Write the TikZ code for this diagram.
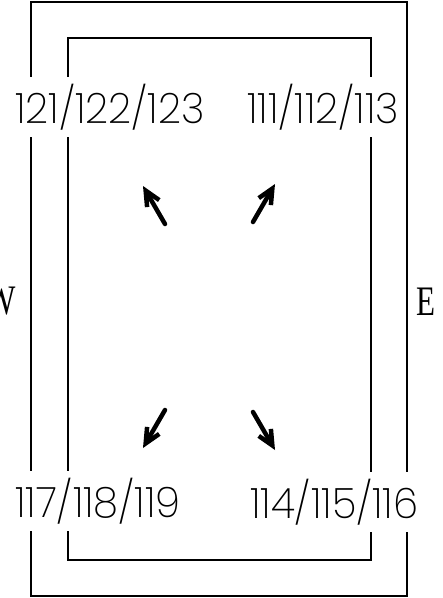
\documentclass[tikz,border=0pt]{standalone}
\usepackage{fontspec}
\usetikzlibrary{arrows.meta}
\newfontfamily\tagfont[FakeStretch=0.96]{Poppins ExtraLight}
\newfontfamily\dirfont[FakeStretch=0.74]{Liberation Serif}
\tikzset{
  wall/.style={draw=black,line width=1.1pt},
  tag/.style={fill=white,inner xsep=0pt,inner ysep=7pt,anchor=west,font=\tagfont\fontsize{42}{42}\selectfont},
  dir/.style={inner sep=0pt,font=\dirfont\fontsize{42}{42}\selectfont},
  flow/.style={-{Straight Barb[length=15pt,width=14pt]},line width=4.5pt,line cap=round},
}
\begin{document}
\begin{tikzpicture}[x=1pt,y=-1pt]
\useasboundingbox (0,0) rectangle (443,598);
\draw[wall] (31,2) rectangle (407,596);
\draw[wall] (68,38) rectangle (371,560);
\foreach \name/\x/\y/\txt in {
  nw/15/107/{121/122/123},
  ne/247/107/{111/112/113},
  sw/15/501/{117/118/119},
  se/250/502/{114/115/116}} {
  \node[tag] (\name) at (\x,\y) {\txt};
}
\foreach \name/\tx/\ty/\hx/\hy in {
  nw/165/224/143/186,
  ne/253/222/275/184,
  sw/165/410/143/448,
  se/253/412/275/450} {
  \coordinate (\name t) at (\tx,\ty);
  \coordinate (\name h) at (\hx,\hy);
  \draw[flow] (\name t) -- (\name h);
}
\node[dir,anchor=east] (west) at (16,301) {W};
\node[dir,anchor=west] (east) at (416,302) {E};
\end{tikzpicture}
\end{document}
